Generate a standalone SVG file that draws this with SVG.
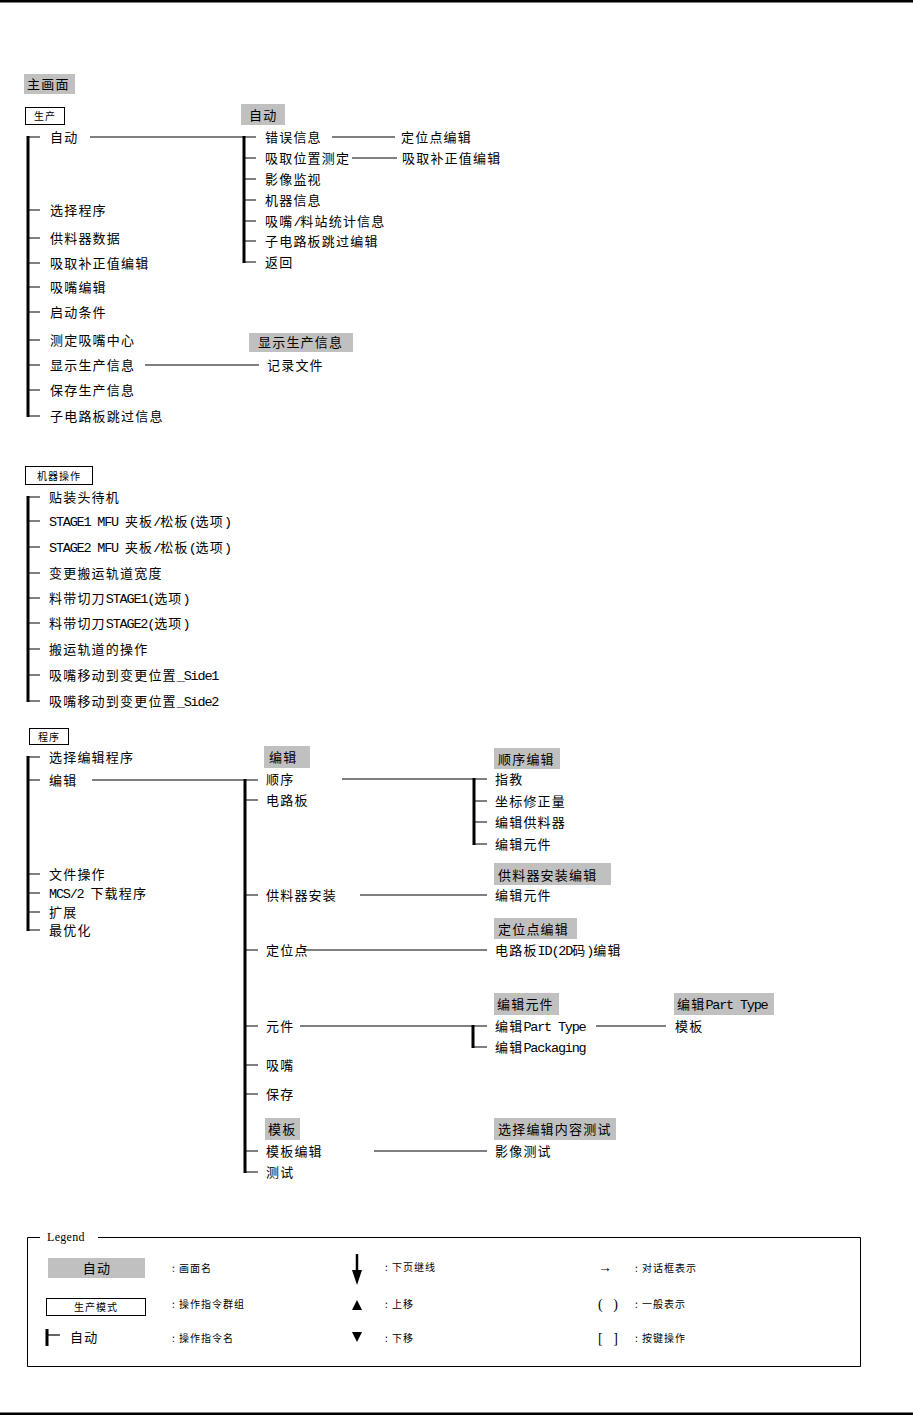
<svg xmlns="http://www.w3.org/2000/svg" width="913" height="1416" viewBox="0 0 913 1416">
<style>
text{font-family:"Noto Sans CJK SC","Noto Sans CJK JP",sans-serif;font-size:13px;letter-spacing:1.2px;fill:#000}
.l{font-family:"Liberation Mono","Noto Sans CJK SC",monospace;font-size:13.5px;letter-spacing:-1.2px}
.sm{font-size:10px;letter-spacing:1px}
.lg{font-family:"Liberation Serif",serif;font-size:12px;letter-spacing:0.3px}
.br{font-family:"Liberation Serif",serif;font-size:14px;letter-spacing:0}
.hdr{fill:#c0c0c0}
.box{fill:#fff;stroke:#000;stroke-width:1}
.bar{stroke:#000;stroke-width:3;fill:none}
.ln{stroke:#000;stroke-width:1.2;fill:none}
</style>
<rect x="0" y="0" width="913" height="2.5" fill="#000"/>
<rect x="0" y="1412.5" width="913" height="2.5" fill="#000"/>

<g id="connectors">
  <path class="bar" d="M28 136V417"/>
  <path class="ln" d="M28 137H40M28 210H40M28 238H40M28 263H40M28 287H40M28 312H40M28 340H40M28 365H40M28 390H40M28 416H40"/>
  <path class="ln" d="M90 137H244"/>
  <path class="bar" d="M244 136V263"/>
  <path class="ln" d="M244 137H256M244 158H256M244 179H256M244 200H256M244 221H256M244 241H256M244 262H256"/>
  <path class="ln" d="M332 137H395M352 158H397M145 365H259"/>
  <path class="bar" d="M28 496V702"/>
  <path class="ln" d="M28 497H40M28 521H40M28 547H40M28 573H40M28 598H40M28 623H40M28 649H40M28 675H40M28 701H40"/>
  <path class="bar" d="M28 756V931"/>
  <path class="ln" d="M28 757H40M28 780H40M28 874H40M28 893H40M28 912H40M28 930H40"/>
  <path class="ln" d="M92 780H245"/>
  <path class="bar" d="M245 779V1173"/>
  <path class="ln" d="M245 780H258M245 800H258M245 895H258M245 950H258M245 1026H258M245 1065H258M245 1094H258M245 1151H258M245 1172H258"/>
  <path class="ln" d="M342 779H474"/>
  <path class="bar" d="M474 778V845"/>
  <path class="ln" d="M474 779H487M474 801H487M474 822H487M474 844H487"/>
  <path class="ln" d="M360 895H487M303 950H487"/>
  <path class="ln" d="M300 1026H487"/>
  <path class="bar" d="M473 1025V1048"/>
  <path class="ln" d="M473 1047H487M596 1026H666M374 1151H487"/>
</g>

<g id="title-main"><rect class="hdr" x="24" y="74" width="51" height="20"/><text x="27" y="89">主画面</text></g>

<g id="grp-production"><rect class="box" x="25.5" y="107.5" width="39" height="17"/><text class="sm" x="34" y="120">生产</text></g>
<g id="production-items">
  <text x="50" y="142">自动</text>
  <text x="50" y="215">选择程序</text>
  <text x="50" y="243">供料器数据</text>
  <text x="50" y="268">吸取补正值编辑</text>
  <text x="50" y="292">吸嘴编辑</text>
  <text x="50" y="317">启动条件</text>
  <text x="50" y="345">测定吸嘴中心</text>
  <text x="50" y="370">显示生产信息</text>
  <text x="50" y="395">保存生产信息</text>
  <text x="50" y="421">子电路板跳过信息</text>
</g>
<g id="screen-auto">
  <rect class="hdr" x="241" y="104" width="44" height="21"/><text x="249" y="120">自动</text>
  <text x="265" y="142">错误信息</text>
  <text x="265" y="163">吸取位置测定</text>
  <text x="265" y="184">影像监视</text>
  <text x="265" y="205">机器信息</text>
  <text x="265" y="226">吸嘴<tspan class="l">/</tspan>料站统计信息</text>
  <text x="265" y="246">子电路板跳过编辑</text>
  <text x="265" y="267">返回</text>
</g>
<g id="node-fid-edit"><text x="401" y="142">定位点编辑</text></g>
<g id="node-pick-offset"><text x="402" y="163">吸取补正值编辑</text></g>
<g id="screen-prodinfo">
  <rect class="hdr" x="249" y="333" width="104" height="19"/><text x="258" y="347">显示生产信息</text>
  <text x="267" y="370">记录文件</text>
</g>

<g id="grp-machine"><rect class="box" x="25.5" y="466.5" width="67" height="18"/><text class="sm" x="37" y="480">机器操作</text></g>
<g id="machine-items">
  <text x="49" y="502">贴装头待机</text>
  <text x="49" y="526"><tspan class="l">STAGE1 MFU </tspan>夹板<tspan class="l">/</tspan>松板<tspan class="l">(</tspan>选项<tspan class="l">)</tspan></text>
  <text x="49" y="552"><tspan class="l">STAGE2 MFU </tspan>夹板<tspan class="l">/</tspan>松板<tspan class="l">(</tspan>选项<tspan class="l">)</tspan></text>
  <text x="49" y="578">变更搬运轨道宽度</text>
  <text x="49" y="603">料带切刀<tspan class="l">STAGE1(</tspan>选项<tspan class="l">)</tspan></text>
  <text x="49" y="628">料带切刀<tspan class="l">STAGE2(</tspan>选项<tspan class="l">)</tspan></text>
  <text x="49" y="654">搬运轨道的操作</text>
  <text x="49" y="680">吸嘴移动到变更位置<tspan class="l">_Side1</tspan></text>
  <text x="49" y="706">吸嘴移动到变更位置<tspan class="l">_Side2</tspan></text>
</g>

<g id="grp-program"><rect class="box" x="29.5" y="728.5" width="39" height="16"/><text class="sm" x="38" y="741">程序</text></g>
<g id="program-items">
  <text x="49" y="762">选择编辑程序</text>
  <text x="49" y="785">编辑</text>
  <text x="49" y="879">文件操作</text>
  <text x="49" y="898"><tspan class="l">MCS/2 </tspan>下载程序</text>
  <text x="49" y="917">扩展</text>
  <text x="49" y="935">最优化</text>
</g>
<g id="screen-edit">
  <rect class="hdr" x="264" y="746" width="46" height="22"/><text x="269" y="762">编辑</text>
  <text x="266" y="784">顺序</text>
  <text x="266" y="805">电路板</text>
  <text x="266" y="900">供料器安装</text>
  <text x="266" y="955">定位点</text>
  <text x="266" y="1031">元件</text>
  <text x="266" y="1070">吸嘴</text>
  <text x="266" y="1099">保存</text>
  <rect class="hdr" x="265" y="1118" width="35" height="22"/><text x="268" y="1134">模板</text>
  <text x="266" y="1156">模板编辑</text>
  <text x="266" y="1177">测试</text>
</g>
<g id="screen-seq-edit">
  <rect class="hdr" x="494" y="748" width="66" height="21"/><text x="498" y="764">顺序编辑</text>
  <text x="495" y="784">指教</text>
  <text x="495" y="806">坐标修正量</text>
  <text x="495" y="827">编辑供料器</text>
  <text x="495" y="849">编辑元件</text>
</g>
<g id="screen-feeder-setup">
  <rect class="hdr" x="494" y="863" width="117" height="22"/><text x="498" y="880">供料器安装编辑</text>
  <text x="495" y="900">编辑元件</text>
</g>
<g id="screen-fid-edit">
  <rect class="hdr" x="494" y="918" width="83" height="21"/><text x="498" y="934">定位点编辑</text>
  <text x="495" y="955">电路板<tspan class="l">ID(2D</tspan>码<tspan class="l">)</tspan>编辑</text>
</g>
<g id="screen-part-edit">
  <rect class="hdr" x="494" y="993" width="65" height="22"/><text x="497" y="1009">编辑元件</text>
  <text x="495" y="1031">编辑<tspan class="l">Part Type</tspan></text>
  <text x="495" y="1052">编辑<tspan class="l">Packaging</tspan></text>
</g>
<g id="screen-parttype">
  <rect class="hdr" x="674" y="993" width="100" height="22"/><text x="677" y="1009">编辑<tspan class="l">Part Type</tspan></text>
  <text x="675" y="1031">模板</text>
</g>
<g id="screen-test">
  <rect class="hdr" x="494" y="1118" width="122" height="22"/><text x="498" y="1134">选择编辑内容测试</text>
  <text x="495" y="1156">影像测试</text>
</g>

<g id="legend">
  <path d="M40 1237.5H27.5V1366.5H860.5V1237.5H98" fill="none" stroke="#000" stroke-width="1"/>
  <text class="lg" x="47" y="1241">Legend</text>
  <rect class="hdr" x="48" y="1258" width="97" height="20"/><text x="97" y="1273" text-anchor="middle">自动</text>
  <text class="sm" x="172" y="1272">: 画面名</text>
  <rect class="box" x="46.5" y="1298.5" width="99" height="17"/><text class="sm" x="96" y="1311" text-anchor="middle">生产模式</text>
  <text class="sm" x="172" y="1308">: 操作指令群组</text>
  <path class="bar" d="M47 1329V1346"/><path class="ln" d="M47 1335H60"/>
  <text x="70" y="1342">自动</text>
  <text class="sm" x="172" y="1342">: 操作指令名</text>
  <path d="M357 1254V1273" stroke="#000" stroke-width="2.5"/>
  <polygon points="352,1270 362,1270 357,1285" fill="#000"/>
  <text class="sm" x="385" y="1271">: 下页继线</text>
  <polygon points="352,1310 362,1310 357,1300" fill="#000"/>
  <text class="sm" x="385" y="1308">: 上移</text>
  <polygon points="352,1332 362,1332 357,1342" fill="#000"/>
  <text class="sm" x="385" y="1342">: 下移</text>
  <text class="br" x="598" y="1272">→</text>
  <text class="sm" x="635" y="1272">: 对话框表示</text>
  <text class="br" x="598" y="1309" xml:space="preserve">(   )</text>
  <text class="sm" x="635" y="1308">: 一般表示</text>
  <text class="br" x="598" y="1343" xml:space="preserve">[   ]</text>
  <text class="sm" x="635" y="1342">: 按键操作</text>
</g>
</svg>
